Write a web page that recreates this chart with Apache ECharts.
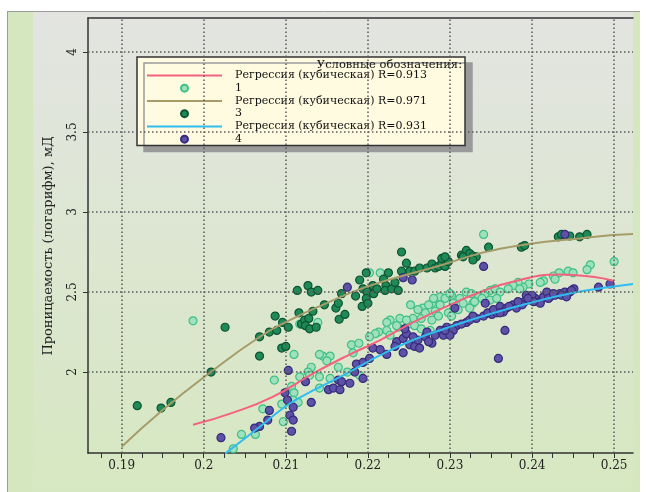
<!DOCTYPE html>
<html><head><meta charset="utf-8">
<script src="https://cdn.jsdelivr.net/npm/echarts@6/dist/echarts.min.js"></script>
<style>html,body{margin:0;padding:0;background:#fff}#c{width:649px;height:492px}</style>
</head><body><div id="c"></div>
<script>
// ---- tick labels ----
const xLabels = [0.19, 0.2, 0.21, 0.22, 0.23, 0.24, 0.25];
const xTicks = [0.1875,0.19,0.1925,0.195,0.1975,0.2,0.2025,0.205,0.2075,0.21,0.2125,0.215,0.2175,0.22,0.2225,0.225,0.2275,0.23,0.2325,0.235,0.2375,0.24,0.2425,0.245,0.2475,0.25];
const yLabels = [2, 2.5, 3, 3.5, 4];

// ---- series names ----
const names = ['Регрессия (кубическая) R=0.913', '1', 'Регрессия (кубическая) R=0.971', '3', 'Регрессия (кубическая) R=0.931', '4'];

// ---- regression curves ----
const reg1 = [[0.1987,1.67],[0.2035,1.745],[0.2084,1.845],[0.2133,1.99],[0.2174,2.10],[0.2215,2.20],[0.2255,2.31],[0.2296,2.41],[0.2337,2.50],[0.2373,2.56],[0.2434,2.61],[0.2474,2.595],[0.2499,2.57]];
const reg3 = [[0.19,1.533],[0.195,1.763],[0.2007,1.994],[0.2068,2.219],[0.2105,2.325],[0.2145,2.42],[0.22,2.535],[0.2284,2.66],[0.2361,2.77],[0.2474,2.844],[0.2523,2.8625]];
const reg4 = [[0.2026,1.49],[0.2068,1.656],[0.2093,1.76],[0.2117,1.84],[0.2174,1.99],[0.2215,2.105],[0.2255,2.20],[0.2296,2.275],[0.2337,2.344],[0.2396,2.43],[0.2455,2.50],[0.2495,2.531],[0.2523,2.55]];

// ---- scatter points ----
const pts1 = [[0.1987,2.32],[0.2110,2.11],[0.2086,1.95],[0.2107,1.91],[0.2110,1.87],[0.2072,1.77],[0.2095,1.80],[0.2097,1.69],[0.2046,1.61],[0.2063,1.61],[0.2036,1.52],
[0.2180,2.17],[0.2189,2.18],[0.2182,2.12],[0.2145,2.10],[0.2154,2.10],[0.2150,2.07],[0.2131,2.03],[0.2127,2.00],[0.2129,1.98],[0.2117,1.97],[0.2141,1.97],[0.2154,1.96],[0.2164,2.03],[0.2175,2.00],[0.2109,1.825],[0.2115,1.81],[0.2141,1.90],
[0.2341,2.86],[0.2202,2.62],[0.2215,2.62],[0.2288,2.47],[0.2278,2.43],[0.2302,2.48],[0.2312,2.46],[0.2320,2.50],[0.2326,2.49],[0.2335,2.47],[0.2343,2.49],[0.2349,2.51],[0.2355,2.52],[0.2252,2.42],[0.2267,2.40],[0.2288,2.42],[0.2304,2.43],[0.2316,2.43],[0.2328,2.43],[0.2310,2.39],[0.2324,2.40],[0.2282,2.38],[0.2298,2.37],[0.2302,2.35],[0.2278,2.325],[0.2265,2.335],[0.2255,2.335],[0.2270,2.37],[0.2286,2.35],[0.2239,2.335],[0.2227,2.325],[0.2223,2.26],[0.2213,2.25],[0.2237,2.28],[0.2249,2.30],[0.2257,2.29],[0.2265,2.27],[0.2276,2.26],
[0.2235,2.29],[0.2227,2.23],[0.2209,2.24],[0.2141,2.11],[0.2190,1.98],[0.2202,2.22],[0.2223,2.31],[0.2247,2.325],[0.2261,2.39],[0.2274,2.42],[0.2280,2.46],[0.2294,2.46],[0.2300,2.49],
[0.2471,2.67],[0.2467,2.64],[0.2500,2.69],[0.2444,2.63],[0.2450,2.62],[0.2433,2.62],[0.2426,2.60],[0.2428,2.58],[0.2414,2.57],[0.2410,2.56],[0.2396,2.55],[0.2389,2.53],[0.2383,2.56],[0.2377,2.54],[0.2371,2.52],[0.2385,2.52],[0.2361,2.50],
[0.2330,2.44],[0.2339,2.46],[0.2349,2.45],[0.2357,2.46],[0.2139,2.31],[0.2117,2.30]];

const pts3 = [[0.1919,1.79],[0.1948,1.775],[0.1960,1.81],[0.2009,2.00],[0.2026,2.28],[0.2068,2.22],[0.2080,2.25],[0.2089,2.26],[0.2087,2.35],[0.2096,2.31],[0.2103,2.28],[0.2068,2.10],[0.2095,2.15],[0.2100,2.16],[0.2114,2.51],[0.2116,2.37],
[0.2119,2.30],[0.2123,2.325],[0.2128,2.335],[0.2124,2.29],[0.2129,2.27],[0.2137,2.28],[0.2133,2.38],[0.2147,2.42],[0.2127,2.54],[0.2131,2.50],[0.2139,2.51],[0.2161,2.40],[0.2164,2.43],[0.2168,2.49],[0.2165,2.33],[0.2172,2.36],[0.2185,2.475],[0.2190,2.575],[0.2198,2.62],[0.2194,2.52],[0.2199,2.50],[0.2198,2.46],[0.2193,2.41],[0.2200,2.43],
[0.2206,2.54],[0.2207,2.49],[0.2211,2.52],[0.2219,2.58],[0.2225,2.62],[0.2222,2.54],[0.2221,2.51],[0.2229,2.52],[0.2237,2.51],[0.2233,2.56],[0.2241,2.75],[0.2241,2.63],[0.2247,2.68],[0.2251,2.63],[0.2257,2.63],[0.2263,2.65],[0.2272,2.65],[0.2278,2.675],[0.2282,2.65],[0.2286,2.66],[0.2290,2.68],[0.2294,2.66],[0.2298,2.69],[0.2290,2.71],[0.2294,2.72],[0.2314,2.73],[0.2320,2.76],[0.2324,2.74],[0.2328,2.725],[0.2332,2.72],[0.2347,2.78],[0.2328,2.70],[0.2316,2.72],
[0.2387,2.78],[0.2391,2.79],[0.2432,2.845],[0.2436,2.86],[0.2446,2.85],[0.2458,2.845],[0.2467,2.86]];

const pts4 = [[0.2103,2.01],[0.2021,1.59],[0.2099,1.87],[0.2102,1.825],[0.2109,1.78],[0.2080,1.76],[0.2078,1.70],[0.2068,1.66],[0.2062,1.65],[0.2105,1.73],[0.2109,1.70],[0.2107,1.63],
[0.2124,1.94],[0.2131,1.81],[0.2152,1.89],[0.2158,1.90],[0.2166,1.89],[0.2164,1.95],[0.2178,1.93],[0.2184,2.00],[0.2186,2.05],[0.2194,2.06],[0.2194,1.96],
[0.2175,2.53],[0.2243,2.59],[0.2254,2.575],[0.2341,2.66],[0.2440,2.86],
[0.2306,2.40],[0.2343,2.43],[0.2296,2.28],[0.2308,2.29],[0.2320,2.31],[0.2332,2.335],[0.2341,2.35],[0.2351,2.36],[0.2357,2.37],[0.2324,2.325],[0.2328,2.35],[0.2314,2.30],[0.2302,2.27],[0.2288,2.26],
[0.2206,2.15],[0.2215,2.14],[0.2223,2.11],[0.2202,2.085],[0.2235,2.19],[0.2233,2.16],[0.2243,2.21],[0.2243,2.12],[0.2247,2.24],[0.2245,2.27],[0.2251,2.17],[0.2257,2.16],[0.2261,2.20],[0.2263,2.15],[0.2270,2.22],[0.2272,2.25],[0.2278,2.18],[0.2282,2.23],[0.2292,2.23],[0.2304,2.26],[0.2300,2.23],[0.2294,2.26],
[0.2359,2.085],[0.2168,1.94],[0.2255,2.22],[0.2274,2.19],[0.2346,2.37],[0.2353,2.39],
[0.2361,2.41],[0.2369,2.40],[0.2377,2.42],[0.2385,2.43],[0.2391,2.44],[0.2398,2.45],[0.2404,2.46],[0.2410,2.44],[0.2414,2.47],[0.2422,2.47],[0.2428,2.48],[0.2434,2.49],[0.2440,2.50],[0.2446,2.50],[0.2451,2.52],[0.2365,2.375],[0.2361,2.37],[0.2393,2.48],[0.2400,2.48],[0.2418,2.50],[0.2410,2.43],[0.2381,2.40],[0.2481,2.53],[0.2495,2.55],[0.2367,2.26],
[0.2372,2.41],[0.2388,2.42],[0.2402,2.44],[0.2420,2.46],[0.2436,2.48],[0.2448,2.51],[0.2383,2.44],[0.2395,2.46],[0.2426,2.49],[0.2442,2.47]];

const FONT = "'DejaVu Serif','Liberation Serif',serif";
const chart = echarts.init(document.getElementById('c'), null, {renderer: 'canvas'});

const gridMarks = xLabels.map(v => ({xAxis: v})).concat(yLabels.map(v => ({yAxis: v})));

const scatterStyle = (fill, border) => ({color: fill, borderColor: border, borderWidth: 1.2, opacity: 1});
const hidden = {opacity: 0, color: 'rgba(0,0,0,0)', borderWidth: 0};

chart.setOption({
  animation: false,
  backgroundColor: '#ffffff',
  graphic: [
    {type: 'rect', z: -100, silent: true, shape: {x: 7, y: 11, width: 633, height: 481}, style: {fill: '#d5e7bf'}},
    {type: 'rect', z: -99, silent: true, shape: {x: 33, y: 12, width: 600, height: 480},
      style: {fill: new echarts.graphic.LinearGradient(0, 0, 0, 1, [{offset: 0, color: '#e3e4e1'}, {offset: 1, color: '#d6e8c1'}])}},
    {type: 'line', z: -98, silent: true, shape: {x1: 7, y1: 11.5, x2: 640, y2: 11.5}, style: {stroke: '#9c9c9c', lineWidth: 1}},
    {type: 'line', z: -98, silent: true, shape: {x1: 7.5, y1: 11, x2: 7.5, y2: 492}, style: {stroke: '#9c9c9c', lineWidth: 1}}
  ],
  title: {
    text: 'Условные обозначения:', right: 187, top: 59.5, padding: 0,
    textStyle: {fontFamily: FONT, fontSize: 11.5, fontWeight: 'normal', color: '#111'}
  },
  legend: {
    data: [
      {name: names[0], itemStyle: hidden},
      {name: names[1]},
      {name: names[2], itemStyle: hidden},
      {name: names[3]},
      {name: names[4], itemStyle: hidden},
      {name: names[5]}
    ],
    orient: 'vertical', left: 137, top: 57,
    padding: [12, 38, 0, 9], itemGap: 0, itemWidth: 75, itemHeight: 7,
    backgroundColor: '#fffbe0', borderColor: '#333', borderWidth: 1.5, borderRadius: 0,
    shadowColor: '#9a9a9a', shadowOffsetX: 7, shadowOffsetY: 6, shadowBlur: 0,
    textStyle: {fontFamily: FONT, fontSize: 11, color: '#111', lineHeight: 12.75, padding: [0, 0, 0, 8]},
    selectedMode: false
  },
  grid: {left: 88, right: 16, top: 18, bottom: 39},
  xAxis: [{
    type: 'value', min: 0.1859, max: 0.2523,
    axisLine: {lineStyle: {color: '#333', width: 1.5}},
    axisTick: {show: true, customValues: xTicks, length: 5, lineStyle: {color: '#333', width: 1}},
    axisLabel: {customValues: xLabels, margin: 7, fontFamily: FONT, fontSize: 12, color: '#222',
      formatter: v => String(parseFloat(Number(v).toFixed(4)))},
    splitLine: {show: false}
  }, {
    type: 'value', position: 'top', min: 0.1859, max: 0.2523,
    axisLine: {show: true, lineStyle: {color: '#333', width: 1.5}},
    axisTick: {show: false}, axisLabel: {show: false}, splitLine: {show: false}
  }],
  yAxis: {
    type: 'value', min: 1.494, max: 4.2125,
    name: 'Проницаемость (логарифм), мД', nameLocation: 'middle', nameGap: 33, nameRotate: 90,
    nameTextStyle: {fontFamily: FONT, fontSize: 13, color: '#222', padding: [0, 21, 0, 0]},
    axisLine: {lineStyle: {color: '#333', width: 1.5}},
    axisTick: {show: true, customValues: yLabels, length: 5, lineStyle: {color: '#333'}},
    axisLabel: {customValues: yLabels, rotate: 90, margin: 9, fontFamily: FONT, fontSize: 12, color: '#222',
      formatter: v => String(parseFloat(Number(v).toFixed(4)))},
    splitLine: {show: false}
  },
  series: [
    {name: names[0], type: 'line', data: reg1, smooth: true, symbol: 'none', lineStyle: {color: '#f4627e', width: 2}, itemStyle: {color: '#f4627e', opacity: 0},
      markLine: {silent: true, symbol: 'none', label: {show: false}, animation: false,
        lineStyle: {type: [1.5, 2.5], color: '#5a5a5a', width: 1.5}, emphasis: {disabled: true}, data: gridMarks}},
    {name: names[1], type: 'scatter', data: pts1, symbol: 'circle', symbolSize: 8, itemStyle: scatterStyle('#9fe0bd', '#3fbf85')},
    {name: names[2], type: 'line', data: reg3, smooth: true, symbol: 'none', lineStyle: {color: '#a59c68', width: 2}, itemStyle: {color: '#a59c68', opacity: 0}},
    {name: names[3], type: 'scatter', data: pts3, symbol: 'circle', symbolSize: 8, itemStyle: scatterStyle('#1f8a57', '#0c5532')},
    {name: names[4], type: 'line', data: reg4, smooth: true, symbol: 'none', lineStyle: {color: '#2fbdef', width: 2}, itemStyle: {color: '#2fbdef', opacity: 0}},
    {name: names[5], type: 'scatter', data: pts4, symbol: 'circle', symbolSize: 8, itemStyle: scatterStyle('#5d52a8', '#362b7a')}
  ]
});
</script></body></html>
